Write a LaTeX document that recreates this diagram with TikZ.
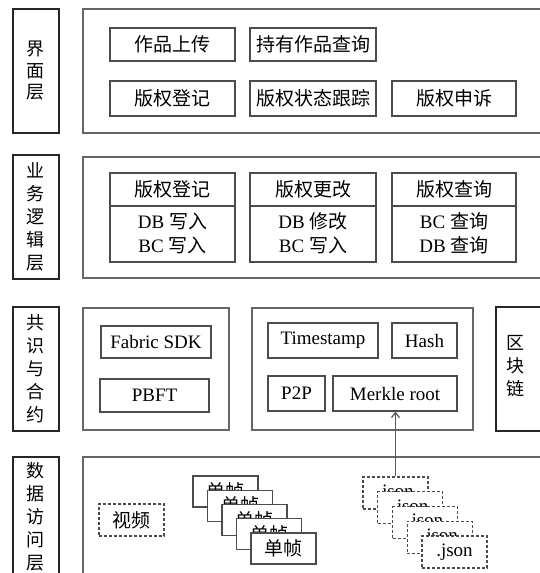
\documentclass[tikz,border=0pt]{standalone}
\usepackage{fontspec}
\setmainfont{Liberation Serif}
\newfontfamily\cjk{Noto Sans CJK SC}
\usetikzlibrary{arrows.meta}
\newcommand\rbox[7]{\node[#2, minimum width={(#5-(#3))*1pt}, minimum height={(#6-(#4))*1pt}] (#1) at ({(#3+#5)/2},{(#4+#6)/2}) {#7};}
\begin{document}
\begin{tikzpicture}[x=1pt,y=-1pt,
  lay/.style={draw=black!85, line width=2.4pt, inner sep=0pt, align=center, font=\cjk\fontsize{18}{23}\selectfont},
  vtext/.style={inner sep=0pt, align=center, font=\cjk\fontsize{18}{23}\selectfont},
  panel/.style={draw=black!60, line width=1.3pt, inner sep=0pt},
  bx/.style={draw=black!70, line width=1.2pt, fill=white, inner sep=0pt, font=\fontsize{19}{24}\selectfont},
  dbx/.style={bx, dash pattern=on 3pt off 2pt},
  txt/.style={inner sep=0pt, align=center, font=\fontsize{19}{24}\selectfont},
  divider/.style={draw=black!70, line width=1.2pt},
  arr/.style={draw=black!65, line width=1.3pt, -{Straight Barb[length=5pt,width=8pt]}}
]
\useasboundingbox (0,0) rectangle (540,573);
\clip (0,0) rectangle (540,573);
\fill[white] (0,0) rectangle (540,573);

% ---------- Layer 1 ----------
\rbox{L1}{lay, font=\cjk\fontsize{18}{21.5}\selectfont}{13}{9}{59}{133}{界\\面\\层}
\rbox{P1}{panel}{83}{9}{560}{133}{}
\rbox{u1}{bx}{110}{28}{235}{61}{\cjk 作品上传}
\rbox{u2}{bx}{250}{28}{376}{61}{\cjk 持有作品查询}
\rbox{u3}{bx}{110}{81}{235}{116}{\cjk 版权登记}
\rbox{u4}{bx}{250}{81}{376}{116}{\cjk 版权状态跟踪}
\rbox{u5}{bx}{392}{81}{516}{116}{\cjk 版权申诉}

% ---------- Layer 2 ----------
\rbox{L2}{lay}{13}{155}{59}{279}{业\\务\\逻\\辑\\层}
\rbox{P2}{panel}{83}{157}{560}{278}{}
\rbox{b1}{bx}{110}{173}{235}{262}{}
\rbox{b2}{bx}{250}{173}{376}{262}{}
\rbox{b3}{bx}{392}{173}{516}{262}{}
\draw[divider] (b1.west |- 0,206) -- (b1.east |- 0,206);
\draw[divider] (b2.west |- 0,206) -- (b2.east |- 0,206);
\draw[divider] (b3.west |- 0,206) -- (b3.east |- 0,206);
\node[txt] (b1t) at (b1.center |- 0,189) {\cjk 版权登记};
\node[txt] (b2t) at (b2.center |- 0,189) {\cjk 版权更改};
\node[txt] (b3t) at (b3.center |- 0,189) {\cjk 版权查询};
\node[txt] (b1b) at (b1.center |- 0,233) {DB {\cjk 写入}\\BC {\cjk 写入}};
\node[txt] (b2b) at (b2.center |- 0,233) {DB {\cjk 修改}\\BC {\cjk 写入}};
\node[txt] (b3b) at (b3.center |- 0,233) {BC {\cjk 查询}\\DB {\cjk 查询}};

% ---------- Layer 3 ----------
\rbox{L3}{lay}{13}{307}{59}{431}{共\\识\\与\\合\\约}
\rbox{P3a}{panel}{83}{308}{229}{430}{}
\rbox{fab}{bx}{101}{326}{211}{358}{Fabric SDK}
\rbox{pbft}{bx}{100}{379}{209}{412}{PBFT}
\rbox{P3b}{panel}{252}{308}{473}{430}{}
\rbox{ts}{bx}{268}{323}{378}{358}{Timestamp}
\rbox{hash}{bx}{392}{323}{457}{358}{Hash}
\rbox{p2p}{bx}{268}{376}{325}{411}{P2P}
\rbox{mr}{bx}{333}{376}{457}{411}{Merkle root}
\rbox{chain}{lay}{496}{307}{560}{431}{}
\node[vtext] (chaintxt) at (515,366) {区\\块\\链};

% ---------- Layer 4 ----------
\rbox{L4}{lay}{13}{457}{59}{600}{}
\node[vtext, anchor=north] (L4txt) at (36,462) {数\\据\\访\\问\\层};
\rbox{P4}{panel}{83}{457}{560}{600}{}
\rbox{video}{dbx}{99}{504}{164}{536}{\cjk 视频}

\rbox{s1}{bx}{193}{476}{258}{507}{\cjk 单帧}
\rbox{s2}{bx}{207.5}{490.25}{272.5}{521.25}{\cjk 单帧}
\rbox{s3}{bx}{222}{504.5}{287}{535.5}{\cjk 单帧}
\rbox{s4}{bx}{236.5}{518.75}{301.5}{549.75}{\cjk 单帧}
\rbox{s5}{bx}{251}{533}{316}{564}{\cjk 单帧}

\rbox{j1}{dbx}{363}{477}{428}{509}{.json}
\rbox{j2}{dbx}{377.75}{491.75}{442.75}{523.75}{.json}
\rbox{j3}{dbx}{392.5}{506.5}{457.5}{538.5}{.json}
\rbox{j4}{dbx}{407.25}{521.25}{472.25}{553.25}{.json}
\rbox{j5}{dbx}{422}{536}{487}{568}{.json}

\draw[arr] (j1.north) -- (j1.north |- mr.south);
\end{tikzpicture}
\end{document}
